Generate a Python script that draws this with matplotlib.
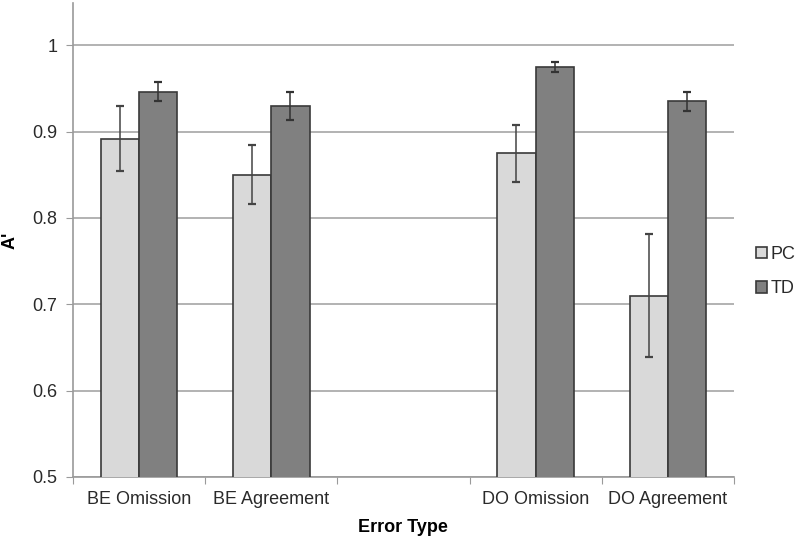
import numpy as np
import matplotlib
matplotlib.use("Agg")
import matplotlib.pyplot as plt

plt.rcParams['font.family'] = ['Liberation Sans', 'DejaVu Sans']

# data
categories = ["BE Omission", "BE Agreement", "", "DO Omission", "DO Agreement"]
pc_vals = [0.892, 0.850, np.nan, 0.875, 0.710]
pc_err = [0.038, 0.034, np.nan, 0.033, 0.071]
td_vals = [0.946, 0.930, np.nan, 0.975, 0.935]
td_err = [0.011, 0.016, np.nan, 0.006, 0.011]
series_names = ["PC", "TD"]

pc_color = "#d9d9d9"
td_color = "#808080"
edge = "#3a3a3a"

fig = plt.figure(figsize=(8, 5.38), dpi=100)
ax = fig.add_axes([0.091, 0.1134, 0.8265, 0.881])

x = np.arange(len(categories))
w = 0.29
ax.bar(x - w / 2, pc_vals, w, bottom=0, color=pc_color, edgecolor=edge, linewidth=1.2,
       label=series_names[0], zorder=3)
ax.bar(x + w / 2, td_vals, w, bottom=0, color=td_color, edgecolor=edge, linewidth=1.2,
       label=series_names[1], zorder=3)
ax.errorbar(x - w / 2, pc_vals, yerr=pc_err, fmt="none", ecolor="#444444", elinewidth=1.1,
            capsize=3, capthick=1.6, zorder=4)
ax.errorbar(x + w / 2, td_vals, yerr=td_err, fmt="none", ecolor="#333333", elinewidth=1.1,
            capsize=3, capthick=1.6, zorder=4)

ax.set_xlim(-0.5, len(categories) - 0.5)
ax.set_ylim(0.5, 1.049)
ax.set_yticks([0.5, 0.6, 0.7, 0.8, 0.9, 1.0])
ax.set_yticklabels(["0.5", "0.6", "0.7", "0.8", "0.9", "1"])
ax.yaxis.grid(True, color="#a6a6a6", linewidth=1.2, zorder=0)
ax.set_axisbelow(True)

# category ticks sit between groups, labels at group centres
ax.set_xticks(np.arange(-0.5, len(categories), 1.0))
ax.set_xticklabels([])
ax.set_xticks(x, minor=True)
ax.set_xticklabels(categories, minor=True)
ax.tick_params(axis="x", which="minor", length=0, pad=10, labelsize=13, labelcolor="#2a2a2a")
ax.tick_params(axis="x", which="major", length=5, color="#9a9a9a", direction="out")
ax.tick_params(axis="y", length=5, color="#9a9a9a", labelsize=13, labelcolor="#2a2a2a", pad=6)

for s in ["top", "right"]:
    ax.spines[s].set_visible(False)
for s in ["left", "bottom"]:
    ax.spines[s].set_color("#9a9a9a")
    ax.spines[s].set_linewidth(1.2)

ax.set_xlabel("Error Type", fontsize=13, fontweight="bold", labelpad=8)
ax.set_ylabel("A'", fontsize=13, fontweight="bold")
ax.yaxis.set_label_coords(-0.082, 0.5)

leg = fig.legend(loc="center left", bbox_to_anchor=(0.925, 0.495), frameon=False,
                 fontsize=13, handlelength=0.6, handleheight=0.6, handletextpad=0.2,
                 labelspacing=0.95, labelcolor="#2a2a2a")
for h in leg.legend_handles:
    h.set_linewidth(1.2)

fig.savefig("out.png", dpi=100)
